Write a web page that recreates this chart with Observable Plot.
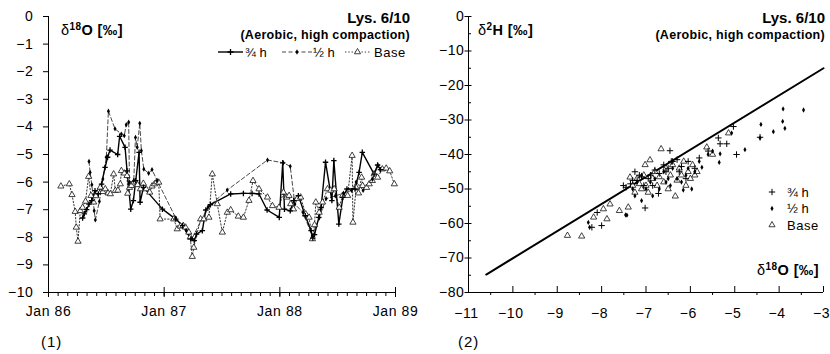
<!DOCTYPE html>
<html><head><meta charset="utf-8">
<script src="https://cdn.jsdelivr.net/npm/d3@7"></script>
<script src="https://cdn.jsdelivr.net/npm/@observablehq/plot@0.6"></script>
<style>
body{margin:0;background:#fff;font-family:"Liberation Sans",Arial,sans-serif;color:#000;}
#wrap{position:relative;width:830px;height:354px;overflow:hidden;}
.panel{position:absolute;top:0;width:415px;height:354px;}
.ov{position:absolute;white-space:nowrap;line-height:1;color:#000;}
.b{font-weight:bold;}
.sup{font-size:10px;font-weight:bold;position:relative;top:-5px;}
</style></head><body>
<div id="wrap">
  <div class="panel" id="p1" style="left:0"></div>
  <div class="panel" id="p2" style="left:415px"></div>
</div>
<script>
// ---------- Panel (1): time series of δ18O ----------
const yearTicks = [1986, 1987, 1988, 1989];
const yearLabels = ["Jan 86", "Jan 87", "Jan 88", "Jan 89"];

const baseT = [1986.107,1986.18,1986.203,1986.231,1986.240,1986.255,1986.275,1986.295,1986.32,1986.347,1986.367,1986.39,1986.41,1986.43,1986.448,1986.47,1986.491,1986.515,1986.535,1986.563,1986.578,1986.60,1986.621,1986.63,1986.656,1986.679,1986.685,1986.70,1986.717,1986.74,1986.77,1986.795,1986.82,1986.844,1986.875,1986.895,1986.916,1986.935,1986.953,1986.965,1987.083,1987.113,1987.14,1987.165,1987.185,1987.213,1987.225,1987.243,1987.256,1987.315,1987.343,1987.387,1987.416,1987.459,1987.503,1987.546,1987.575,1987.641,1987.685,1987.733,1987.768,1987.82,1987.893,1987.936,1987.993,1988.031,1988.06,1988.08,1988.094,1988.118,1988.15,1988.18,1988.224,1988.253,1988.282,1988.30,1988.311,1988.34,1988.369,1988.412,1988.44,1988.47,1988.513,1988.542,1988.586,1988.625,1988.632,1988.66,1988.68,1988.707,1988.716,1988.75,1988.773,1988.80,1988.816,1988.845,1988.886,1988.92,1988.95,1988.99];
const baseV = [-6.15,-6.07,-6.46,-7.07,-7.64,-8.15,-7.04,-6.92,-6.7,-5.8,-6.49,-6.73,-6.5,-6.35,-6.19,-6.35,-6.25,-6.4,-6.43,-5.71,-6.31,-6.3,-6.07,-5.59,-5.68,-5.77,-6.41,-6.2,-6.13,-6.0,-6.1,-6.25,-6.05,-6.25,-6.37,-6.15,-6.07,-6.0,-6.01,-7.34,-7.34,-7.7,-7.6,-7.58,-7.64,-7.82,-8.0,-8.7,-8.37,-7.34,-7.34,-7.28,-5.71,-6.79,-7.82,-7.1,-7.01,-7.24,-7.28,-6.67,-5.95,-6.25,-6.55,-6.86,-6.92,-6.37,-6.55,-6.49,-6.79,-6.98,-6.6,-6.55,-7.16,-7.28,-8.06,-7.55,-6.73,-7.1,-6.73,-6.25,-6.3,-6.25,-6.92,-6.49,-6.49,-5.04,-7.46,-6.2,-6.4,-5.83,-6.13,-6.2,-6.07,-5.95,-5.71,-5.83,-5.53,-5.5,-5.6,-6.07];

const h12T = [1986.35,1986.36,1986.375,1986.395,1986.405,1986.44,1986.47,1986.50,1986.518,1986.575,1986.63,1986.655,1986.672,1986.693,1986.70,1986.737,1986.752,1986.767,1986.789,1986.803,1986.824,1986.866,1986.895,1986.94,1987.10,1987.19,1987.24,1987.38,1987.545,1987.893,1988.03,1988.09,1988.13,1988.20,1988.28,1988.34,1988.40,1988.48,1988.55,1988.62,1988.66,1988.72,1988.80,1988.85];
const h12V = [-5.25,-5.65,-6.1,-7.04,-7.37,-6.7,-5.89,-5.1,-3.43,-4.07,-4.26,-4.32,-3.92,-3.83,-6.0,-5.95,-4.38,-4.74,-3.87,-4.86,-5.53,-5.68,-5.55,-5.95,-7.3,-7.75,-8.05,-6.9,-6.29,-5.2,-5.3,-5.43,-6.8,-7.1,-7.95,-7.3,-6.6,-6.5,-6.4,-6.3,-6.0,-6.3,-5.9,-5.4];

const h34T = [1986.295,1986.31,1986.33,1986.35,1986.373,1986.402,1986.431,1986.459,1986.489,1986.511,1986.532,1986.598,1986.615,1986.662,1986.679,1986.711,1986.734,1986.754,1986.783,1986.792,1986.821,1986.985,1987.10,1987.16,1987.23,1987.26,1987.28,1987.33,1987.36,1987.40,1987.575,1987.685,1987.76,1987.82,1987.89,1987.995,1988.025,1988.04,1988.09,1988.12,1988.16,1988.22,1988.27,1988.285,1988.30,1988.337,1988.357,1988.395,1988.45,1988.467,1988.51,1988.545,1988.58,1988.65,1988.685,1988.713,1988.815,1988.845,1988.87];
const h34V = [-7.3,-7.15,-7.0,-6.8,-6.67,-6.31,-6.43,-6.07,-5.47,-5.1,-4.84,-5.0,-4.34,-4.74,-5.59,-6.98,-6.67,-5.95,-4.92,-6.73,-6.19,-6.98,-7.34,-7.58,-8.06,-8.12,-7.88,-7.76,-7.01,-6.82,-6.43,-6.41,-6.41,-6.43,-7.01,-7.28,-5.3,-6.98,-7.04,-6.67,-6.49,-7.22,-7.76,-8.03,-7.9,-7.28,-6.92,-5.28,-6.67,-5.22,-7.52,-6.55,-6.25,-6.25,-5.65,-4.92,-5.71,-5.38,-5.55];

// ---------- Panel (2): δ2H vs δ18O ----------
const h34O = [-8.22,-8.1,-8.0,-7.51,-7.45,-7.35,-7.3,-7.25,-7.2,-7.15,-7.1,-7.05,-7.02,-6.95,-6.9,-6.85,-6.8,-6.72,-6.7,-6.6,-6.55,-6.5,-6.46,-6.43,-6.4,-6.3,-6.25,-6.2,-6.1,-6.05,-5.9,-5.8,-5.6,-5.37,-5.33,-5.18,-5.03,-4.96,-4.43];
const h34H = [-61.1,-56.8,-60.6,-49.0,-49.5,-48.5,-47.5,-45.0,-47.5,-46,-46.5,-49,-55.5,-47,-46,-49,-44.5,-51.3,-45.5,-43,-45,-44,-38.9,-42,-42,-41.5,-45,-43.5,-47,-42,-44,-41,-39,-35.2,-36.9,-36.9,-31.9,-40,-35];
const h12O = [-8.3,-8.27,-7.46,-7.43,-7.3,-7.25,-7.2,-7.1,-7.1,-7.0,-6.9,-6.85,-6.8,-6.7,-6.6,-6.55,-6.5,-6.45,-6.4,-6.3,-6.2,-6.16,-6.1,-6.05,-5.97,-5.9,-5.8,-5.74,-5.6,-5.5,-5.35,-5.33,-5.07,-4.77,-4.43,-4.41,-4.13,-3.92,-3.91,-3.87,-3.45];
const h12H = [-59.7,-61.1,-57.5,-57.6,-50,-52,-48,-53.4,-46,-50,-48,-52,-47,-50,-45,-48,-47,-49,-44,-47,-48,-50.3,-46,-44,-50,-45,-42,-43.7,-40,-39,-42.3,-39.8,-33.8,-38.6,-35.2,-31.3,-33.4,-30.4,-26.8,-32.4,-27.1];
const baseO = [-8.77,-8.45,-8.18,-7.96,-7.88,-7.81,-7.6,-7.4,-7.36,-7.3,-7.25,-7.2,-7.15,-7.1,-7.05,-7.02,-7.0,-6.95,-6.91,-6.85,-6.8,-6.75,-6.7,-6.66,-6.6,-6.55,-6.5,-6.45,-6.4,-6.34,-6.3,-6.25,-6.2,-6.15,-6.1,-6.05,-6.0,-5.95,-5.9,-5.85,-5.63,-5.5,-5.14];
const baseH = [-63.5,-63.7,-58.2,-55.8,-58.7,-54.4,-56.3,-55.3,-46.6,-49,-51,-47,-48.5,-50,-46,-43,-49,-51,-41.6,-47,-45,-49,-46.5,-38.4,-48,-44,-50,-46,-43,-52.1,-47.5,-44,-46,-42,-49,-45,-47,-43,-46,-45,-37.9,-40,-33.8];

const lineO = [-10.6, -3.0];
const lineH = [-74.8, -15.0];

const seriesNames = ["¾ h", "½ h", "Base"];

// ---------- build ----------
const zip2 = (a, b, ka, kb) => a.map((v, i) => ({[ka]: v, [kb]: b[i]}));
const base = zip2(baseT, baseV, "t", "v");
const h12 = zip2(h12T, h12V, "t", "v");
const h34 = zip2(h34T, h34V, "t", "v");
const sBase = zip2(baseO, baseH, "o", "h");
const s12 = zip2(h12O, h12H, "o", "h");
const s34 = zip2(h34O, h34H, "o", "h");
const lmwl = zip2(lineO, lineH, "o", "h");

const minus = d => d < 0 ? "\u2212" + Math.abs(d) : String(d);
const style = {fontFamily: "Liberation Sans, Arial, sans-serif", fontSize: "14px", letterSpacing: "0.6px", color: "#000", background: "transparent", overflow: "visible"};

const months = d3.range(0, 37).map(i => 1986 + i / 12);

const p1 = Plot.plot({
  width: 415, height: 332, marginLeft: 48, marginRight: 20, marginTop: 16, marginBottom: 40,
  style,
  x: {domain: [1986, 1989], label: null},
  y: {domain: [-10, 0], label: null},
  marks: [
    Plot.axisY({ticks: d3.range(-10, 1), tickSize: 5, tickPadding: 10, tickFormat: minus, label: null}),
    Plot.axisX({ticks: months, tickSize: 4, tickFormat: () => "", label: null}),
    Plot.axisX({ticks: yearTicks, tickSize: 10, dy: -5, tickFormat: () => "", label: null}),
    Plot.axisX({ticks: yearTicks, tickSize: 0, tickPadding: 14, tickFormat: d => yearLabels[yearTicks.indexOf(d)], label: null}),
    Plot.ruleX([1986]),
    Plot.ruleY([-10]),
    Plot.line(base, {x: "t", y: "v", stroke: "#333", strokeWidth: 1, strokeDasharray: "1.3,2"}),
    Plot.line(h12, {x: "t", y: "v", stroke: "#333", strokeWidth: 0.9, strokeDasharray: "4,2.5"}),
    Plot.line(h34, {x: "t", y: "v", stroke: "#000", strokeWidth: 1.4}),
    Plot.dot(base, {x: "t", y: "v", symbol: "triangle", r: 2.3, fill: "white", stroke: "#111", strokeWidth: 0.8}),
    Plot.dot(h12, {x: "t", y: "v", symbol: "diamond", r: 1.6, fill: "#000"}),
    Plot.dot(h34, {x: "t", y: "v", symbol: "plus", r: 1.9, stroke: "#000", strokeWidth: 1.3})
  ]
});
document.getElementById("p1").appendChild(p1);

const p2 = Plot.plot({
  width: 415, height: 332, marginLeft: 53, marginRight: 7, marginTop: 16, marginBottom: 40,
  style,
  x: {domain: [-11, -3], label: null},
  y: {domain: [-80, 0], label: null},
  marks: [
    Plot.axisY({ticks: d3.range(-80, 1, 10), tickSize: 7, dx: 3.5, tickFormat: () => "", label: null}),
    Plot.axisY({ticks: d3.range(-75, 0, 10), tickSize: 3, dx: 3, tickFormat: () => "", label: null}),
    Plot.axisY({ticks: d3.range(-80, 1, 10), tickSize: 0, tickPadding: 4, tickFormat: minus, label: null}),
    Plot.axisX({ticks: d3.range(-11, -2), tickSize: 6, dy: -6, tickFormat: () => "", label: null}),
    Plot.axisX({ticks: d3.range(-10.5, -3, 1), tickSize: 3, tickFormat: () => "", label: null}),
    Plot.axisX({ticks: d3.range(-11, -2), tickSize: 0, tickPadding: 16, dx: -2, tickFormat: minus, label: null}),
    Plot.ruleX([-11]),
    Plot.ruleY([-80]),
    Plot.line(lmwl, {x: "o", y: "h", stroke: "#000", strokeWidth: 2}),
    Plot.dot(sBase, {x: "o", y: "h", symbol: "triangle", r: 2.3, fill: "white", stroke: "#111", strokeWidth: 0.8}),
    Plot.dot(s12, {x: "o", y: "h", symbol: "diamond", r: 1.6, fill: "#000"}),
    Plot.dot(s34, {x: "o", y: "h", symbol: "plus", r: 2.2, stroke: "#000", strokeWidth: 1})
  ]
});
document.getElementById("p2").appendChild(p2);

// ---------- overlays: titles, axis titles, legends ----------
function ov(parent, html, css) {
  const d = document.createElement("div");
  d.className = "ov";
  d.innerHTML = html;
  Object.assign(d.style, css);
  document.getElementById(parent).appendChild(d);
  return d;
}
const titleMain = "Lys. 6/10";
const titleSub = "(Aerobic, high compaction)";
for (const p of ["p1", "p2"]) {
  ov(p, titleMain, {right: "5px", top: "10px", fontSize: "15px", fontWeight: "bold"});
  ov(p, titleSub, {right: "5px", top: "29px", fontSize: "12.5px", fontWeight: "bold", letterSpacing: "0.3px"});
}
ov("p1", 'δ<span class="sup">18</span><span class="b">O [‰]</span>', {left: "61px", top: "23px", fontSize: "14.5px", letterSpacing: "0.4px"});
ov("p2", 'δ<span class="sup">2</span><span class="b">H [‰]</span>', {left: "63px", top: "23px", fontSize: "14.5px", letterSpacing: "0.4px"});
ov("p2", 'δ<span class="sup">18</span><span class="b">O [‰]</span>', {right: "11px", top: "263px", fontSize: "14.5px", letterSpacing: "0.4px"});
ov("p1", "(1)", {left: "41px", top: "334px", fontSize: "15px", letterSpacing: "1px"});
ov("p2", "(2)", {left: "43px", top: "334px", fontSize: "15px", letterSpacing: "1px"});

const sym = (type, size) => d3.symbol(type, size)();
// legend of panel 1 (horizontal, with line styles)
const lg1 = `
<svg width="205" height="18" style="overflow:visible;font-family:Liberation Sans,Arial,sans-serif;font-size:13px">
  <line x1="8" x2="33" y1="9" y2="9" stroke="#000" stroke-width="1.4"/>
  <path transform="translate(20.5,9)" d="${sym(d3.symbolPlus, 14)}" stroke="#000" stroke-width="1.3" fill="none"/>
  <text x="35" y="9" dy="0.35em">${seriesNames[0]}</text>
  <line x1="72" x2="102" y1="9" y2="9" stroke="#333" stroke-width="0.9" stroke-dasharray="4,2.5"/>
  <path transform="translate(87,9)" d="${sym(d3.symbolDiamond, 8)}" fill="#000"/>
  <text x="103" y="9" dy="0.35em">${seriesNames[1]}</text>
  <line x1="135" x2="160" y1="9" y2="9" stroke="#333" stroke-width="1" stroke-dasharray="1.3,2"/>
  <path transform="translate(147.5,9)" d="${sym(d3.symbolTriangle, 16)}" fill="white" stroke="#111" stroke-width="0.8"/>
  <text x="164" y="9" dy="0.35em" letter-spacing="0.5">${seriesNames[2]}</text>
</svg>`;
ov("p1", lg1, {left: "210px", top: "43px"});

// legend of panel 2 (vertical, markers only)
const lg2 = `
<svg width="70" height="52" style="overflow:visible;font-family:Liberation Sans,Arial,sans-serif;font-size:13px">
  <path transform="translate(12,9)" d="${sym(d3.symbolPlus, 15)}" stroke="#000" stroke-width="1" fill="none"/>
  <text x="27" y="9" dy="0.35em">${seriesNames[0]}</text>
  <path transform="translate(12,25.5)" d="${sym(d3.symbolDiamond, 8)}" fill="#000"/>
  <text x="27" y="25.5" dy="0.35em">${seriesNames[1]}</text>
  <path transform="translate(12,42)" d="${sym(d3.symbolTriangle, 16)}" fill="white" stroke="#111" stroke-width="0.8"/>
  <text x="27" y="42" dy="0.35em" letter-spacing="0.5">${seriesNames[2]}</text>
</svg>`;
ov("p2", lg2, {left: "345px", top: "183px"});
</script>
</body></html>
